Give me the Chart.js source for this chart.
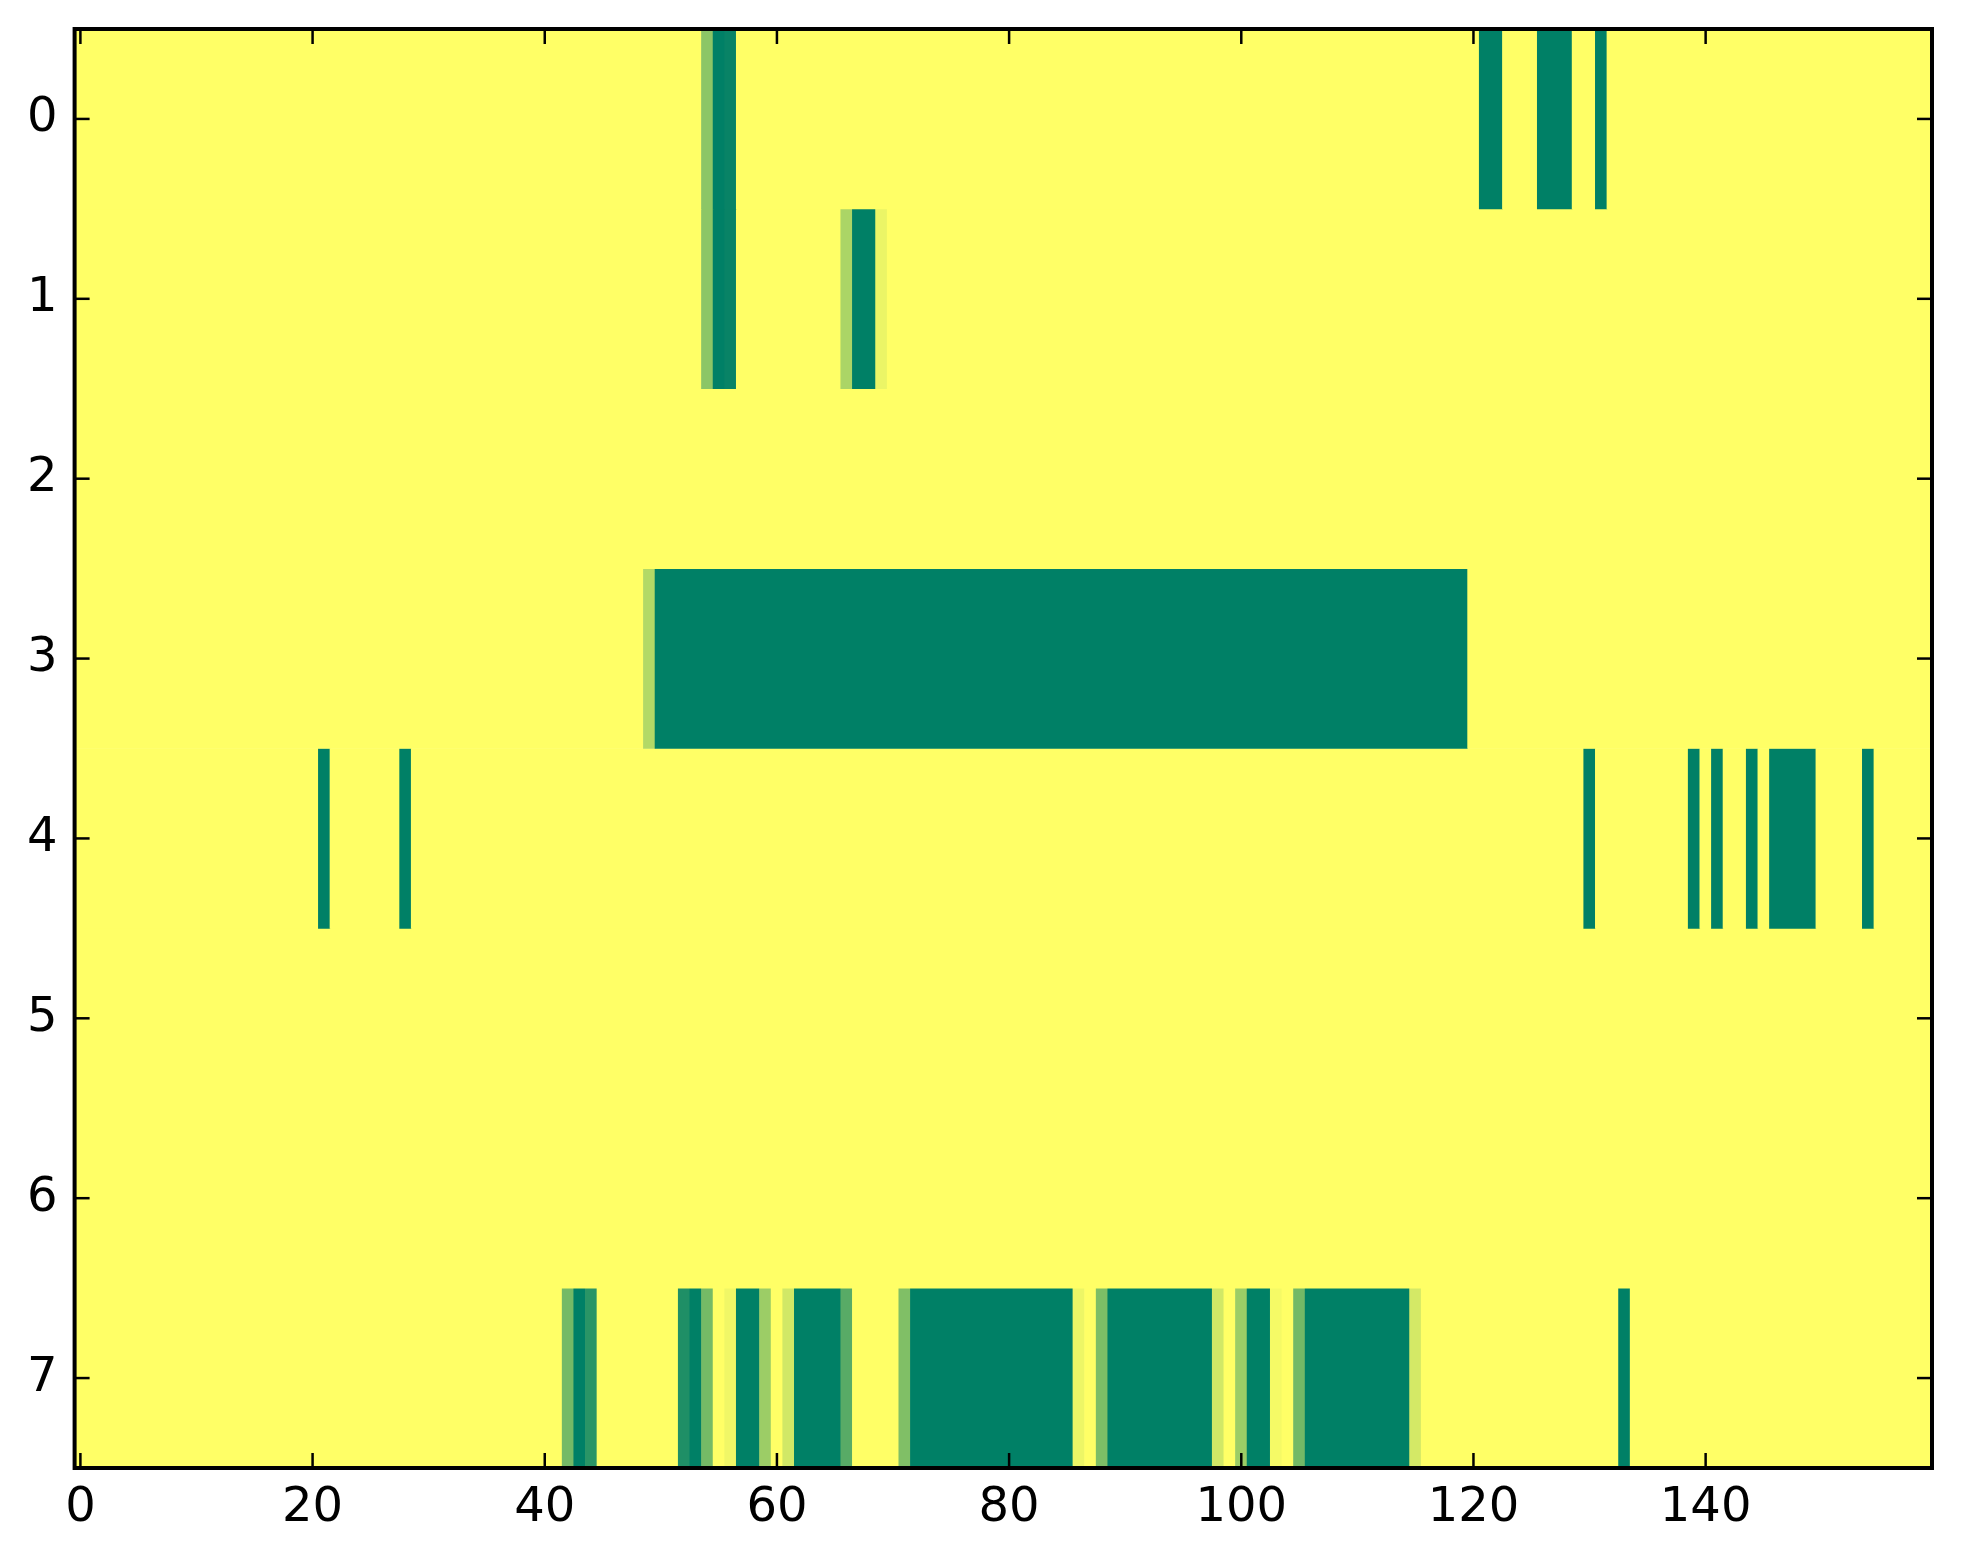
<!DOCTYPE html>
<html>
<head>
<meta charset="utf-8">
<script src="https://cdn.jsdelivr.net/npm/chart.js@4/dist/chart.umd.min.js"></script>
<style>
  html, body { margin: 0; padding: 0; background: #ffffff; }
  #wrap { width: 1963px; height: 1564px; position: relative; }
</style>
</head>
<body>
<div id="wrap"><canvas id="c"></canvas></div>
<script>
// ---- data ----
const columnCount = 160;                       // columns 0..159
const rowLabels = ['0', '1', '2', '3', '4', '5', '6', '7'];
const xTickValues = [0, 20, 40, 60, 80, 100, 120, 140];

// non-zero runs per row: [firstColumn, lastColumn, value]; other cells are 0
const row0Runs = [[54, 54, 0.45], [55, 55, 1], [56, 56, 0.97], [121, 122, 1], [126, 128, 1], [131, 131, 1]];
const row1Runs = [[54, 54, 0.45], [55, 55, 1], [56, 56, 0.97], [66, 66, 0.33], [67, 68, 1], [69, 69, 0.08]];
const row2Runs = [];
const row3Runs = [[49, 49, 0.30], [50, 119, 1]];
const row4Runs = [[21, 21, 1], [28, 28, 1], [130, 130, 1], [139, 139, 1], [141, 141, 1], [144, 144, 1], [146, 149, 1], [154, 154, 1]];
const row5Runs = [];
const row6Runs = [];
const row7Runs = [[42, 42, 0.54], [43, 43, 1], [44, 44, 0.835], [52, 52, 0.88], [53, 53, 1], [54, 54, 0.54],
                  [56, 56, 0.06], [57, 58, 1], [59, 59, 0.39], [61, 61, 0.18], [62, 65, 1], [66, 66, 0.655],
                  [71, 71, 0.50], [72, 85, 1], [86, 86, 0.07], [88, 88, 0.51], [89, 97, 1], [98, 98, 0.18],
                  [100, 100, 0.39], [101, 102, 1], [103, 103, 0.04], [105, 105, 0.55], [106, 114, 1],
                  [115, 115, 0.17], [133, 133, 1]];
const rowRuns = [row0Runs, row1Runs, row2Runs, row3Runs, row4Runs, row5Runs, row6Runs, row7Runs];

// ---- colour map: matplotlib "summer_r" ----
function summerR(v) {
  const t = 1 - v;
  return 'rgb(' + Math.round(255 * t) + ',' + Math.round(255 * (0.5 + 0.5 * t)) + ',102)';
}

// ---- build datasets: one per row; consecutive equal cells form one floating bar ----
const datasets = rowRuns.map((runs, r) => {
  const values = new Array(columnCount).fill(0);
  runs.forEach(([a, b, v]) => { for (let c = a; c <= b; c++) values[c] = v; });
  const segs = [];
  let start = 0;
  for (let c = 1; c <= columnCount; c++) {
    if (c === columnCount || values[c] !== values[start]) {
      segs.push({ from: start, to: c - 1, v: values[start] });
      start = c;
    }
  }
  return {
    label: 'row ' + rowLabels[r],
    data: segs.map(s => ({ x: [s.from - 0.5, s.to + 0.5], y: rowLabels[r] })),
    backgroundColor: segs.map(s => summerR(s.v)),
    borderWidth: 0,
    grouped: false,
    barPercentage: 1.0,
    categoryPercentage: 1.0
  };
});

const tickFont = { family: 'DejaVu Sans', size: 48 };

const framePlugin = {
  id: 'frameTicks',
  afterDatasetsDraw(chart) {
    const { ctx, chartArea: a, scales: { x, y } } = chart;
    const tl = 15;
    ctx.save();
    ctx.strokeStyle = '#000';
    ctx.lineWidth = 2.5;
    const line = (x1, y1, x2, y2) => { ctx.beginPath(); ctx.moveTo(x1, y1); ctx.lineTo(x2, y2); ctx.stroke(); };
    x.ticks.forEach(t => {
      const px = x.getPixelForValue(t.value);
      line(px, a.bottom, px, a.bottom - tl);
      line(px, a.top, px, a.top + tl);
    });
    y.ticks.forEach((t, i) => {
      const py = y.getPixelForTick(i);
      line(a.left, py, a.left + tl, py);
      line(a.right, py, a.right - tl, py);
    });
    ctx.lineWidth = 4;
    ctx.strokeRect(a.left, a.top, a.right - a.left, a.bottom - a.top);
    ctx.restore();
  }
};

new Chart(document.getElementById('c'), {
  type: 'bar',
  data: { labels: rowLabels, datasets: datasets },
  options: {
    indexAxis: 'y',
    responsive: true,
    maintainAspectRatio: false,
    animation: false,
    layout: { padding: { top: 29, right: 31, bottom: 26, left: 10 } },
    plugins: { legend: { display: false }, tooltip: { enabled: false } },
    scales: {
      x: {
        type: 'linear',
        position: 'bottom',
        min: -0.5,
        max: columnCount - 0.5,
        grid: { display: false, drawTicks: false },
        border: { display: false },
        ticks: { font: tickFont, color: '#000', padding: 12, maxRotation: 0 },
        afterBuildTicks: (s) => { s.ticks = xTickValues.map(v => ({ value: v })); },
        afterFit: (s) => { s.height = 70; s.paddingLeft = 0; s.paddingRight = 0; }
      },
      y: {
        type: 'category',
        labels: rowLabels,
        offset: true,
        grid: { display: false, drawTicks: false },
        border: { display: false },
        ticks: { font: tickFont, color: '#000', padding: 17 },
        afterFit: (s) => { s.width = 64.6; s.paddingTop = 0; s.paddingBottom = 0; }
      }
    }
  },
  plugins: [framePlugin]
});
</script>
</body>
</html>
